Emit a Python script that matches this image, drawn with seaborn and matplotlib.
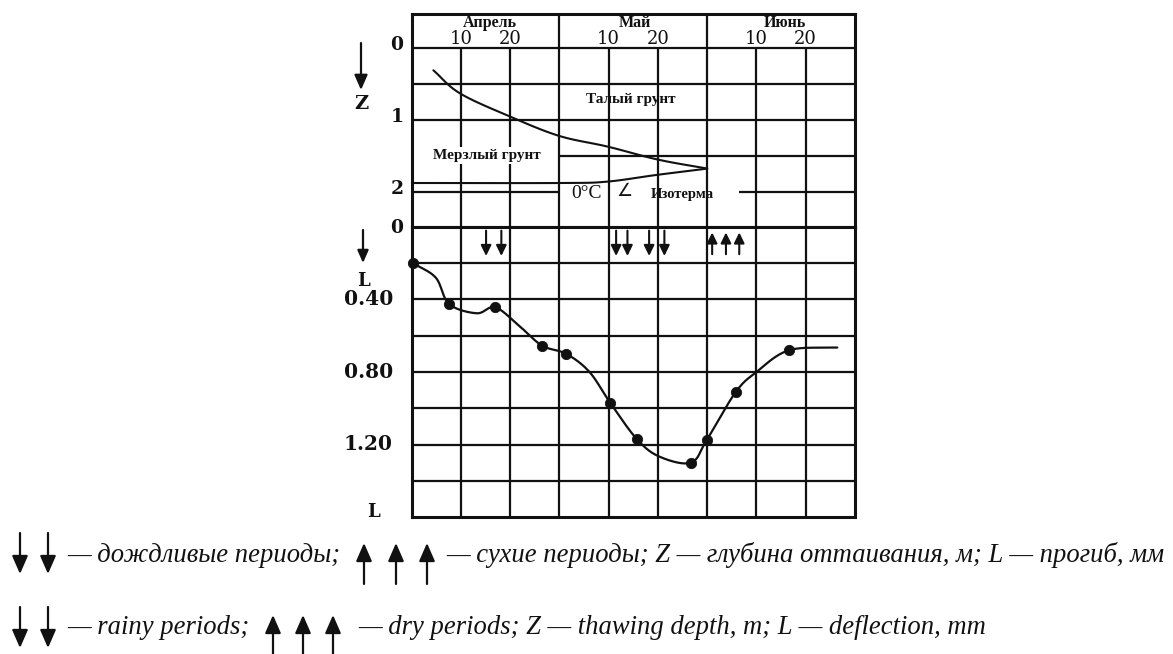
import numpy as np
import pandas as pd
import matplotlib
matplotlib.use("Agg")
import matplotlib.pyplot as plt
import seaborn as sns
from matplotlib.transforms import blended_transform_factory

# ---------------- data ----------------
months = ["Апрель", "Май", "Июнь"]
month_start_day = [0, 30, 60]
month_label_day = [15.9, 45.4, 75.8]
day_ticks = ["10", "20"]

# thaw front (upper branch of the 0°C isotherm), day from 1 April, depth Z, m
thaw_day = [4.4, 9.8, 19.9, 29.9, 39.8, 50.0, 60.0]
thaw_depth = [0.31, 0.63, 0.95, 1.22, 1.37, 1.55, 1.675]

# lower branch of the 0°C isotherm
iso_day = [0.0, 30.0, 39.5, 49.6, 60.0]
iso_depth = [1.875, 1.875, 1.857, 1.764, 1.675]

# deflection measurements L, mm
meas_day = [0.3, 7.6, 17.0, 26.5, 31.4, 40.3, 45.7, 56.7, 59.9, 65.8, 76.6]
meas_L = [0.20, 0.425, 0.443, 0.655, 0.70, 0.97, 1.17, 1.30, 1.175, 0.91, 0.68]

# traced deflection curve (points on the drawn line)
trace_day = [0.3, 4.9, 7.6, 13.2, 17.0, 22.0, 26.5, 31.4, 36.1, 40.3, 45.7,
             50.3, 56.7, 59.9, 65.8, 70.0, 76.6, 86.4]
trace_L = [0.20, 0.28, 0.425, 0.476, 0.443, 0.55, 0.655, 0.70, 0.80, 0.97, 1.17,
           1.267, 1.30, 1.175, 0.91, 0.80, 0.68, 0.665]

rain_days = [15.1, 18.2, 41.5, 43.8, 48.2, 51.3]
dry_days = [61.0, 63.8, 66.5]

Z_ticks = [0, 1, 2]
L_ticks = [0.0, 0.40, 0.80, 1.20]
L_ticklabels = ["0", "0.40", "0.80", "1.20"]

legend_ru_rain = "— дождливые периоды;"
legend_ru_rest = "— сухие периоды; Z — глубина оттаивания, м; L — прогиб, мм"
legend_en_rain = "— rainy periods;"
legend_en_rest = "— dry periods; Z — thawing depth, m; L — deflection, mm"


def smooth(xs, ys, n=20):
    """Catmull-Rom rendering of a traced line (drawing only)."""
    P = np.column_stack([xs, ys]).astype(float)
    P = np.vstack([2 * P[0] - P[1], P, 2 * P[-1] - P[-2]])
    out = []
    t = np.linspace(0, 1, n, endpoint=False)[:, None]
    for i in range(1, len(P) - 2):
        p0, p1, p2, p3 = P[i - 1], P[i], P[i + 1], P[i + 2]
        seg = 0.5 * ((2 * p1) + (-p0 + p2) * t + (2 * p0 - 5 * p1 + 4 * p2 - p3) * t ** 2
                     + (-p0 + 3 * p1 - 3 * p2 + p3) * t ** 3)
        out.append(seg)
    out.append(P[-2][None, :])
    out = np.vstack(out)
    return out[:, 0], out[:, 1]


sns.set_style("white")
plt.rcParams["font.family"] = ["DejaVu Serif", "DejaVu Sans"]

W, H = 1173, 654
fig = plt.figure(figsize=(W / 100, H / 100), dpi=100)
INK = "#111111"

x0, x1 = 411.7, 855.0
y_top, y_mid, y_bot = 14.0, 227.0, 517.0


def rect(xa, xb, ya, yb):
    return [xa / W, 1 - yb / H, (xb - xa) / W, (yb - ya) / H]


axZ = fig.add_axes(rect(x0, x1, y_top, y_mid))
axL = fig.add_axes(rect(x0, x1, y_mid, y_bot))

Zmin, Zmax = -0.472, 2.486
axZ.set_xlim(0, 90)
axZ.set_ylim(Zmax, Zmin)
axL.set_xlim(0, 90)
axL.set_ylim(1.6, 0)

for ax in (axZ, axL):
    ax.set_xticks([])
    ax.set_yticks([])
    for s in ax.spines.values():
        s.set_linewidth(2.2)
        s.set_color(INK)

GLW = 1.6
# ---- top panel grid ----
axZ.hlines([0, 0.5, 1.0], 0, 90, color=INK, lw=GLW, zorder=1)
axZ.hlines([1.5], 30, 90, color=INK, lw=GLW, zorder=1)
axZ.hlines([2.0], 0, 30, color=INK, lw=GLW, zorder=1)
axZ.hlines([2.0], 66.5, 90, color=INK, lw=GLW, zorder=1)
axZ.vlines([30, 60], Zmin, Zmax, color=INK, lw=GLW, zorder=1)
axZ.vlines([10, 20, 40, 50, 70, 80], 0, Zmax, color=INK, lw=GLW, zorder=1)

# header
for lab, d in zip(months, month_label_day):
    axZ.text(d, -0.35, lab, ha="center", va="center", fontsize=11.5,
             fontweight="bold", family="Liberation Serif", color=INK)
for ms in month_start_day:
    for k, lab in enumerate(day_ticks):
        axZ.text(ms + 10 * (k + 1), -0.13, lab, ha="center", va="center",
                 fontsize=13, family="DejaVu Serif", color=INK)

# thaw / isotherm curves
tx, ty = smooth(thaw_day, thaw_depth)
sns.lineplot(x=tx, y=ty, ax=axZ, color=INK, lw=1.5, sort=False, estimator=None, zorder=3)
ix, iy = smooth(iso_day, iso_depth)
sns.lineplot(x=ix, y=iy, ax=axZ, color=INK, lw=1.5, sort=False, estimator=None, zorder=3)

axZ.text(44.5, 0.72, "Талый грунт", ha="center", va="center", fontsize=11,
         fontweight="bold", family="Liberation Serif", color=INK, zorder=4)
axZ.text(15.2, 1.49, "Мерзлый грунт", ha="center", va="center", fontsize=11,
         fontweight="bold", family="Liberation Serif", color=INK, zorder=4,
         bbox=dict(facecolor="white", edgecolor="none", pad=1.5))
axZ.text(35.5, 2.02, "0°C", ha="center", va="center", fontsize=14,
         family="Liberation Serif", color=INK, zorder=4)
axZ.text(43.2, 1.98, "∠", ha="center", va="center", fontsize=13,
         family="DejaVu Sans", color=INK, zorder=4)
axZ.text(54.9, 2.03, "Изотерма", ha="center", va="center", fontsize=10.5,
         fontweight="bold", family="Liberation Serif", color=INK, zorder=4)

# ---- bottom panel grid ----
axL.hlines(np.arange(0.2, 1.41, 0.2), 0, 90, color=INK, lw=GLW, zorder=1)
axL.vlines(np.arange(10, 81, 10), 0, 1.6, color=INK, lw=GLW, zorder=1)

lx, ly = smooth(trace_day, trace_L)
sns.lineplot(x=lx, y=ly, ax=axL, color=INK, lw=1.6, sort=False, estimator=None, zorder=3)
sns.scatterplot(x=meas_day, y=meas_L, ax=axL, color=INK, s=55, edgecolor=INK,
                zorder=4, clip_on=False)

for d in rain_days:
    axL.annotate("", xy=(d, 0.16), xytext=(d, 0.02),
                 arrowprops=dict(arrowstyle="-|>,head_length=0.45,head_width=0.22",
                                 color=INK, lw=1.5, shrinkA=0, shrinkB=0,
                                 mutation_scale=14))
for d in dry_days:
    axL.annotate("", xy=(d, 0.03), xytext=(d, 0.15),
                 arrowprops=dict(arrowstyle="-|>,head_length=0.45,head_width=0.22",
                                 color=INK, lw=1.5, shrinkA=0, shrinkB=0,
                                 mutation_scale=14))

# ---- axis labels (left side) ----
trZ = blended_transform_factory(fig.transFigure, axZ.transData)
trL = blended_transform_factory(fig.transFigure, axL.transData)
for z in Z_ticks:
    axZ.text(397 / W, z - 0.04, str(z), transform=trZ, ha="center", va="center",
             fontsize=13.5, fontweight="bold", color=INK)
for v, lab in zip(L_ticks, L_ticklabels):
    if lab == "0":
        axL.text(397 / W, v + 0.005, lab, transform=trL, ha="center", va="center",
                 fontsize=13.5, fontweight="bold", color=INK)
    else:
        axL.text(393 / W, v, lab, transform=trL, ha="right", va="center",
                 fontsize=14.5, fontweight="bold", color=INK)


def fig_arrow(x, ya, yb, ms=20, lw=1.6, hl=0.55, hw=0.24):
    fig.add_artist(matplotlib.patches.FancyArrowPatch(
        (x / W, 1 - ya / H), (x / W, 1 - yb / H), transform=fig.transFigure,
        arrowstyle=f"-|>,head_length={hl},head_width={hw}", mutation_scale=ms,
        color=INK, lw=lw, shrinkA=0, shrinkB=0))


fig_arrow(361, 43, 90, ms=18, hl=0.5, hw=0.22)
fig.text(361 / W, 1 - 104 / H, "Z", ha="center", va="center", fontsize=14,
         fontweight="bold", color=INK)
fig_arrow(363, 230, 263, ms=15, hl=0.5, hw=0.22)
fig.text(363 / W, 1 - 281 / H, "L", ha="center", va="center", fontsize=13,
         fontweight="bold", color=INK)
fig.text(373 / W, 1 - 512 / H, "L", ha="center", va="center", fontsize=13,
         fontweight="bold", color=INK)

# ---- legend lines ----
LFS = 19.2
for x in (20, 48):
    fig_arrow(x, 533, 574)
    fig_arrow(x, 607, 648)
for x in (364, 396, 427):
    fig_arrow(x, 584, 543)
for x in (273, 303, 333):
    fig_arrow(x, 656, 615)

fig.text(67 / W, 1 - 555 / H, legend_ru_rain, ha="left", va="center", fontsize=LFS,
         style="italic", family="Liberation Serif", color=INK)
fig.text(446 / W, 1 - 555 / H, legend_ru_rest, ha="left", va="center", fontsize=LFS,
         style="italic", family="Liberation Serif", color=INK)
fig.text(67 / W, 1 - 627 / H, legend_en_rain, ha="left", va="center", fontsize=LFS,
         style="italic", family="Liberation Serif", color=INK)
fig.text(358 / W, 1 - 627 / H, legend_en_rest, ha="left", va="center", fontsize=LFS,
         style="italic", family="Liberation Serif", color=INK)

fig.savefig("out.png", dpi=100, facecolor="white")
